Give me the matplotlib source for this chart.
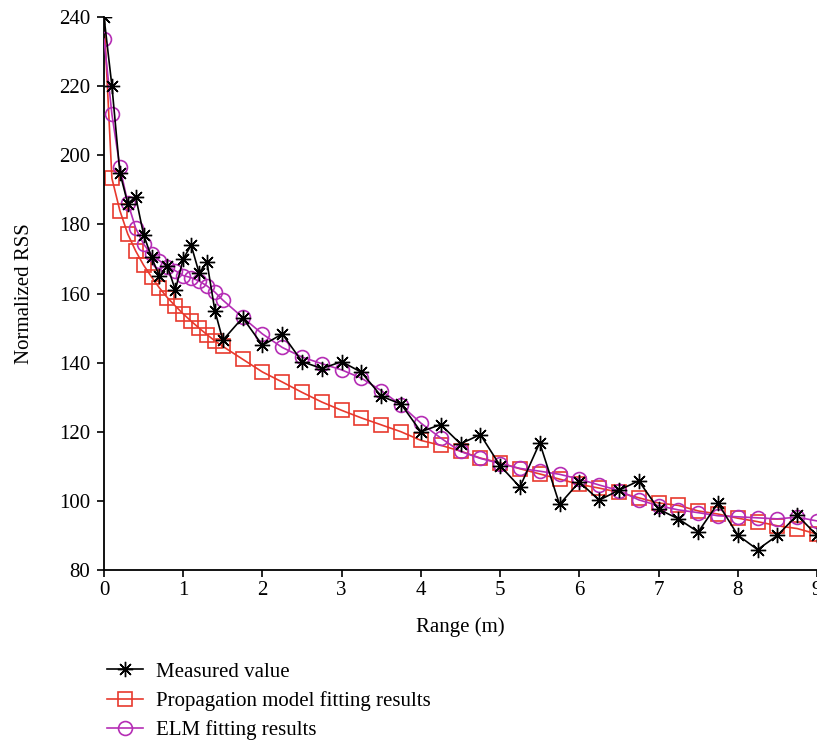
import matplotlib
matplotlib.use("Agg")
import matplotlib.pyplot as plt

plt.rcParams['font.family'] = ['Liberation Serif', 'DejaVu Serif']

x = [0, 0.1, 0.2, 0.3, 0.4, 0.5, 0.6, 0.7, 0.8, 0.9, 1.0, 1.1, 1.2, 1.3, 1.4, 1.5,
     1.75, 2.0, 2.25, 2.5, 2.75, 3.0, 3.25, 3.5, 3.75, 4.0, 4.25, 4.5, 4.75, 5.0,
     5.25, 5.5, 5.75, 6.0, 6.25, 6.5, 6.75, 7.0, 7.25, 7.5, 7.75, 8.0, 8.25, 8.5,
     8.75, 9.0]

measured = [240, 220, 195, 186, 188, 177, 170.5, 165, 168, 161, 170, 174, 166, 169, 155, 146.5,
            153, 145, 148.3, 140.3, 138.3, 140.3, 137.2, 130.3, 128, 120, 122.1, 116.5, 119.2, 110.2,
            104, 116.8, 99, 105.5, 100.2, 103.1, 105.8, 97.6, 94.8, 91, 99.3, 90.1, 85.9, 90,
            95.9, 90]

propagation = [240, 193.3, 184, 177.2, 172.3, 168.2, 164.8, 161.6, 158.8, 156.4, 154.1, 152, 150, 148.1, 146.3, 144.7,
               141, 137.3, 134.4, 131.4, 128.6, 126.2, 124, 122, 120, 117.5, 116.1, 114.4, 112.4, 111,
               109.3, 107.8, 106.3, 104.8, 103.7, 102.5, 100.9, 99.4, 98.7, 97.1, 96.2, 95, 94, 92.8,
               92, 90.4]

elm = [233.6, 211.8, 196.6, 186.3, 178.9, 174.3, 171.3, 169.5, 167.8, 166.6, 165.2, 164.6, 163.6, 162.2, 160.4, 158.1,
       153.1, 148.3, 144.4, 141.6, 139.7, 137.9, 135.5, 131.9, 127.7, 122.5, 118.2, 114.3, 112.3, 110.8,
       109.4, 108.6, 107.7, 106.3, 104.6, 103, 100.3, 98.6, 97.4, 96.6, 95.7, 95.4, 95.1, 94.8,
       95.3, 94.2]

labels = ["Measured value", "Propagation model fitting results", "ELM fitting results"]
xticks = list(range(0, 10))
yticks = list(range(80, 241, 20))

RED = '#e8392d'
MAG = '#b52db5'
FS = 15

fig = plt.figure(figsize=(8.17, 7.43), dpi=100)
ax = fig.add_axes([0.1273, 0.2328, 0.8727, 0.7443])

l2, = ax.plot(x, propagation, color=RED, lw=1.2, marker='s', ms=9.5, mfc='none',
              mec=RED, mew=1.2, markevery=list(range(1, len(x))), zorder=2)
l3, = ax.plot(x, elm, color=MAG, lw=1.2, marker='o', ms=10, mfc='none',
              mec=MAG, mew=1.2, zorder=3)
l1, = ax.plot(x, measured, color='black', lw=1.2, marker=(8, 2, 0), ms=11,
              mew=1.0, zorder=4)

ax.set_xlim(0, 9)
ax.set_ylim(80, 240)
ax.set_xticks(xticks)
ax.set_yticks(yticks)
ax.spines['top'].set_visible(False)
ax.spines['right'].set_visible(False)
ax.tick_params(direction='out', length=5, width=1.2, labelsize=FS)
ax.tick_params(axis='y', pad=5)
ax.tick_params(axis='x', pad=3)
for s in ('left', 'bottom'):
    ax.spines[s].set_linewidth(1.3)
ax.set_xlabel("Range (m)", fontsize=FS, labelpad=12)
ax.set_ylabel("Normalized RSS", fontsize=FS, labelpad=18)

fig.legend([l1, l2, l3], labels, loc='upper left', bbox_to_anchor=(0.121, 0.12),
           frameon=False, fontsize=FS, handlelength=1.7, handletextpad=0.65,
           labelspacing=0.45, borderaxespad=0)

fig.savefig("out.png", dpi=100)
